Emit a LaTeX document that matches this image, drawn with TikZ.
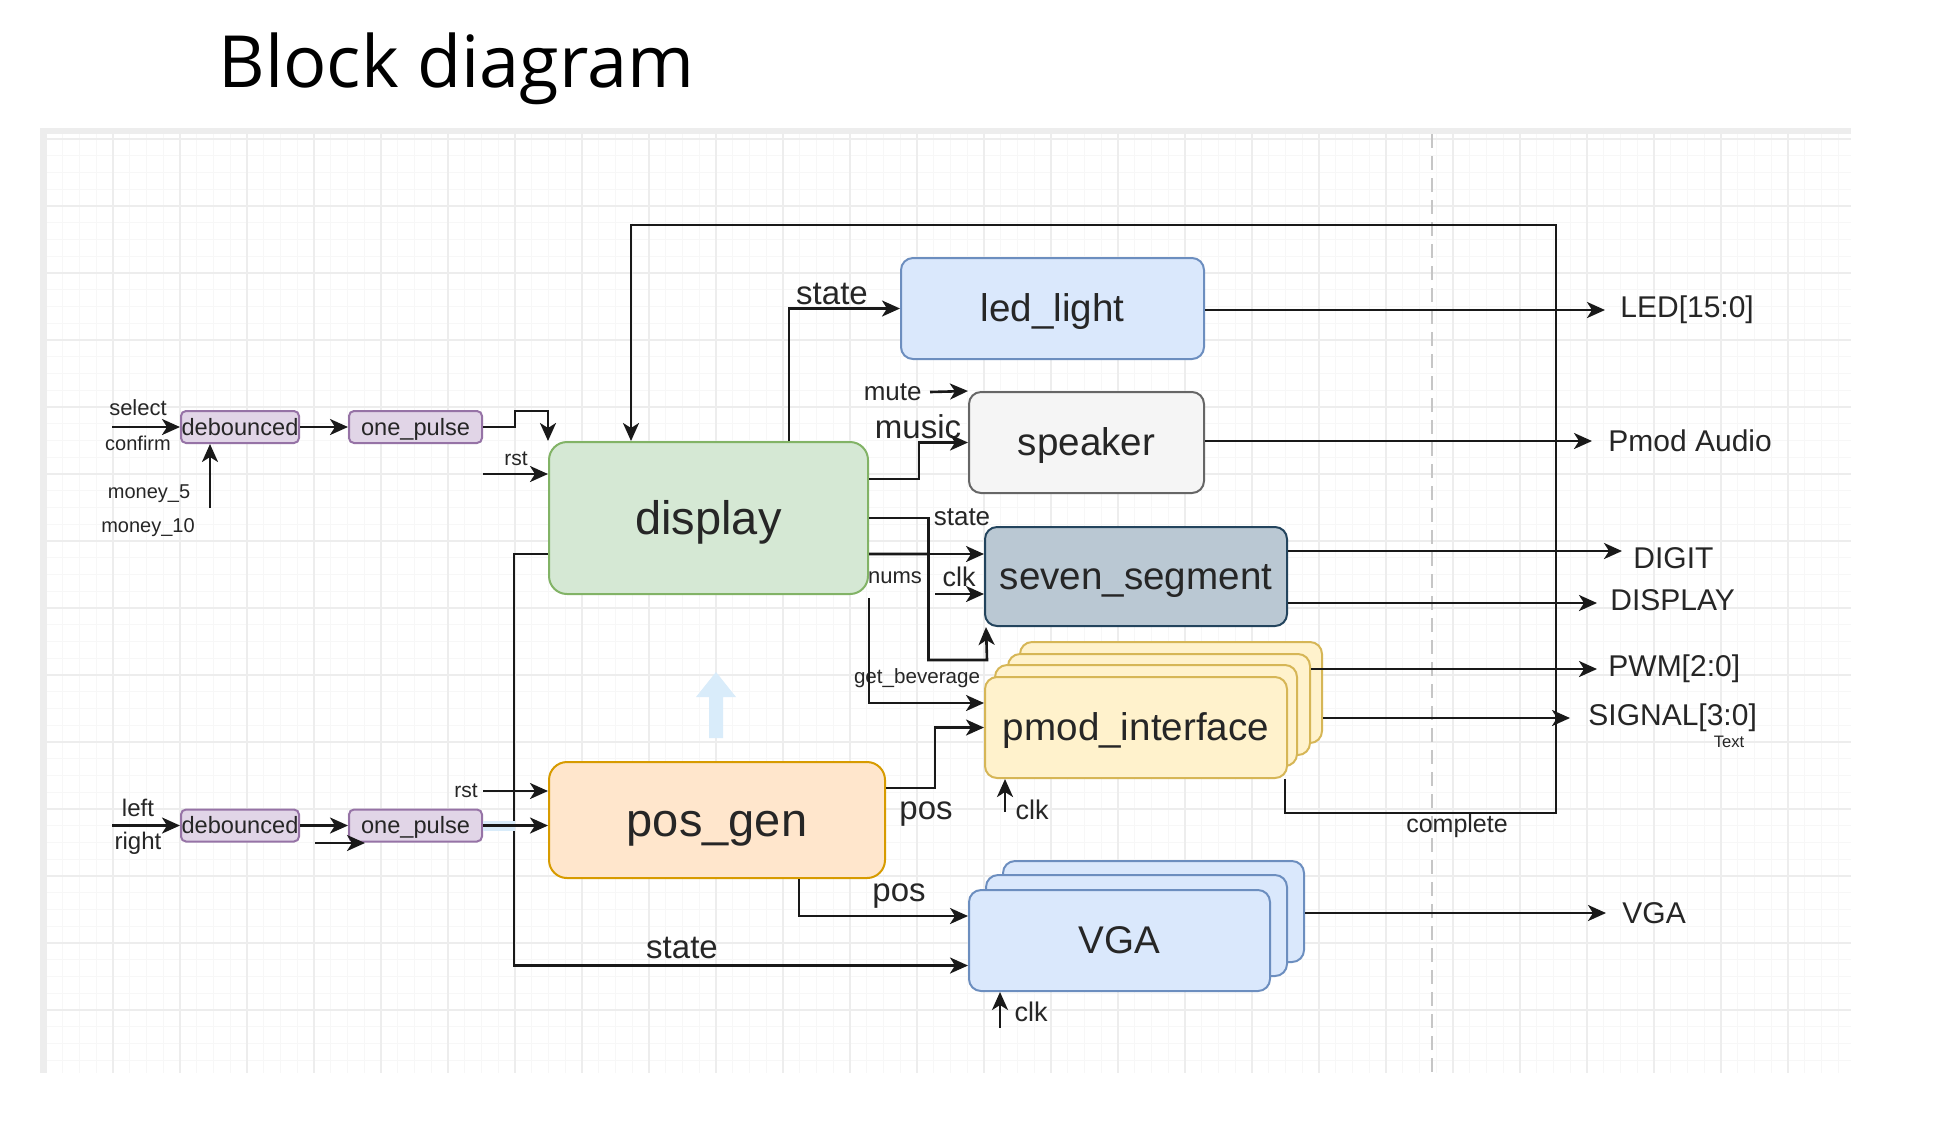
\documentclass[tikz,border=0pt]{standalone}
\usepackage{fontspec}
\setmainfont{Liberation Sans}
\newfontfamily\titlefont{Open Sans}
\usetikzlibrary{arrows.meta, positioning, calc, shadows}

\definecolor{ledfill}{HTML}{DAE8FC}
\definecolor{ledline}{HTML}{6C8EBF}
\definecolor{spkfill}{HTML}{F5F5F5}
\definecolor{spkline}{HTML}{666666}
\definecolor{dispfill}{HTML}{D5E8D4}
\definecolor{displine}{HTML}{82B366}
\definecolor{segfill}{HTML}{BAC8D3}
\definecolor{segline}{HTML}{23445D}
\definecolor{pmodfill}{HTML}{FFF2CC}
\definecolor{pmodline}{HTML}{D6B656}
\definecolor{posfill}{HTML}{FFE6CC}
\definecolor{posline}{HTML}{D79B00}
\definecolor{debfill}{HTML}{E1D5E7}
\definecolor{debline}{HTML}{9673A6}
\definecolor{txt}{HTML}{262626}
\definecolor{paleblue}{HTML}{D9ECFA}

\newcommand{\fsz}[1]{\fontsize{#1}{#1}\selectfont}

\begin{document}
\begin{tikzpicture}[
  x=0.5pt, y=-0.5pt,
  blk/.style={draw, rounded corners=6pt, line width=1pt, inner sep=0pt, align=center, text=txt, text height=17.4pt, text depth=4pt, font=\fsz{19.3}},
  bigblk/.style={blk, rounded corners=9pt, text height=21.2pt, text depth=4.9pt, font=\fsz{23.5}},
  tinyblk/.style={draw=debline, fill=debfill, rounded corners=2.5pt, line width=1pt, inner sep=0pt, minimum height=16pt, text=txt, text height=10.6pt, text depth=2.5pt, font=\fsz{11.8}},
  lbl/.style={inner sep=0pt, text=txt, font=\fsz{16.5}},
  smlbl/.style={inner sep=0pt, text=txt, font=\fsz{13.5}},
  tnylbl/.style={inner sep=0pt, text=txt, font=\fsz{10.5}},
  outlbl/.style={inner sep=0pt, anchor=west, text=txt, font=\fsz{15}},
  arr/.style={-{Stealth[length=9pt, width=8pt, inset=2.5pt]}, line width=1.3pt, black!90},
  minorline/.style={gray!6, line width=0.4pt},
  majorline/.style={gray!14, line width=0.6pt}
]
\useasboundingbox (0,0) rectangle (1952,1132);
\fill[white] (0,0) rectangle (1952,1132);
\fill[gray!14] (40,128) rectangle (1851,134);
\fill[gray!14] (40,128) rectangle (45,1073);
\foreach \k in {0,...,107} \draw[minorline] ({46+\k*16.75},134) -- ({46+\k*16.75},1073);
\foreach \k in {0,...,55} \draw[minorline] (45,{139+\k*16.75}) -- (1851,{139+\k*16.75});
\foreach \k in {0,...,26} \draw[majorline] ({46+\k*67},134) -- ({46+\k*67},1073);
\foreach \k in {0,...,13} \draw[majorline] (45,{139+\k*67}) -- (1851,{139+\k*67});
\draw[gray!45, line width=1pt, dash pattern=on 7pt off 4pt] (1432,134) -- (1432,1073);
\fill[paleblue] (716,672) -- (736,697) -- (723,697) -- (723,738) -- (709,738) -- (709,697) -- (696,697) -- cycle;

\node[anchor=base west, inner sep=0pt, font=\titlefont\fsz{36}] (title) at (218,87) {Block diagram};

\node[blk, draw=ledline, fill=ledfill, minimum width=151.5pt, minimum height=50.5pt] (led) at (1052.5,308.5) {led\_light};
\node[blk, draw=spkline, fill=spkfill, minimum width=117.5pt, minimum height=50.5pt] (spk) at (1086.5,442.5) {speaker};
\node[bigblk, draw=displine, fill=dispfill, minimum width=159.5pt, minimum height=76pt] (disp) at (708.5,518) {display};
\node[blk, draw=segline, fill=segfill, minimum width=151pt, minimum height=49.5pt] (seg) at (1136,576.5) {seven\_segment};
\node[blk, draw=pmodline, fill=pmodfill, minimum width=151pt, minimum height=50.5pt,
  copy shadow={shadow xshift=17.5pt, shadow yshift=17.5pt, draw=pmodline, fill=pmodfill, line width=1pt},
  copy shadow={shadow xshift=11.5pt, shadow yshift=11.5pt, draw=pmodline, fill=pmodfill, line width=1pt},
  copy shadow={shadow xshift=5pt, shadow yshift=6pt, draw=pmodline, fill=pmodfill, line width=1pt}] (pmod) at (1136,727.5) {pmod\_interface};
\node[bigblk, draw=posline, fill=posfill, minimum width=168pt, minimum height=58pt] (posgen) at (717,820) {pos\_gen};
\node[blk, draw=ledline, fill=ledfill, minimum width=150.5pt, minimum height=50.5pt,
  copy shadow={shadow xshift=17pt, shadow yshift=14.5pt, draw=ledline, fill=ledfill, line width=1pt},
  copy shadow={shadow xshift=8.5pt, shadow yshift=7.5pt, draw=ledline, fill=ledfill, line width=1pt}] (vga) at (1119.5,940.5) {VGA};

\node[tinyblk, minimum width=59pt] (debA) at (240,427) {debounced};
\node[tinyblk, minimum width=66.5pt] (pulseA) at (415.5,427) {one\_pulse};
\node[tinyblk, minimum width=59pt] (debB) at (240,825.5) {debounced};
\node[tinyblk, minimum width=66.5pt] (pulseB) at (415.5,825.5) {one\_pulse};

\coordinate (selin) at (112,427);
\coordinate (monin) at (210,508);
\coordinate (rstA) at (483,474);
\coordinate (mutein) at (930,392);
\coordinate (segclk) at (935,594);
\coordinate (pmodclk) at (1005,812);
\coordinate (vgaclk) at (1000,1028);
\coordinate (rstB) at (483,791);
\coordinate (lrin) at (112,825.5);
\coordinate (xin) at (315,843);
\coordinate (xout) at (365,843);

\node[tnylbl, font=\fsz{11}] (seltxt) at (138,408) {select};
\node[tnylbl, font=\fsz{10}] (conftxt) at (138,443) {confirm};
\node[tnylbl, font=\fsz{10}] (m5txt) at (149,494) {money\_5};
\node[tnylbl, font=\fsz{10}] (m10txt) at (148,528) {money\_10};
\node[tnylbl] (rstAtxt) at (516,459) {rst};
\node[tnylbl] (rstBtxt) at (466,791) {rst};
\node[tnylbl, font=\fsz{12}] (lefttxt) at (138,808) {left};
\node[tnylbl, font=\fsz{12}] (righttxt) at (138,843) {right};
\node[lbl] (ledst) at (832,294) {state};
\node[smlbl, font=\fsz{13}, left=4pt of mutein] (mutetxt) {mute};
\node[lbl] (musictxt) at (918,427) {music};
\node[smlbl, font=\fsz{13}] (segst) at (962,517) {state};
\node[tnylbl, font=\fsz{11}] (numstxt) at (895,578) {nums};
\node[smlbl] (segclktxt) at (959,577) {clk};
\node[tnylbl, font=\fsz{10.3}] (getbev) at (917,678) {get\_beverage};
\node[lbl] (postxt) at (926,814) {pos};
\node[smlbl] (pmodclktxt) at (1032,810) {clk};
\node[lbl] (vgapos) at (899,896) {pos};
\node[lbl] (vgast) at (682,948) {state};
\node[smlbl] (vgaclktxt) at (1031,1012) {clk};
\node[smlbl, font=\fsz{12.5}] (donetxt) at (1457,826) {complete};

\node[outlbl] (ledtxt) at (1620,310) {LED[15:0]};
\node[outlbl] (audtxt) at (1608,441) {Pmod Audio};
\node[outlbl] (digtxt) at (1633,558) {DIGIT};
\node[outlbl] (distxt) at (1610,600) {DISPLAY};
\node[outlbl] (pwmtxt) at (1608,669) {PWM[2:0]};
\node[outlbl] (sigtxt) at (1588,718) {SIGNAL[3:0]};
\node[outlbl] (vgatxt) at (1622,913) {VGA};
\node[inner sep=0pt, text=txt, font=\fsz{8.3}] (texttxt) at (1729,742) {Text};

\draw[arr] (selin) -- (debA);
\draw[arr] (monin) -- (monin |- debA.south);
\draw[arr] (debA) -- (pulseA);
\draw[arr] (pulseA.east) -| (515,411) -| (disp.north west);
\draw[arr] (rstA) -- (rstA -| disp.west);
\draw[arr] ($(pmod.south east)+(-3,0)$) -- ++(0,34) -| (1556,225) -| ($(disp.north)+(-77.5,0)$);
\draw[arr] ($(disp.north)+(80.5,0)$) |- (led);
\draw[arr] (mutein) -- (spk.north west);
\draw[arr] ($(disp.east)+(0,-39)$) -- ++(50,0) |- (spk);
\draw[arr] (disp.east) -- ++(59.5,0) |- ($(seg.west)+(0,-22.5)$);
\draw[arr] ($(disp.east)+(0,36)$) -- ++(59.5,0) |- (987,660) -- ($(seg.south west)+(2,0)$);
\draw[arr] (segclk) -- (segclk -| seg.west);
\draw[arr] ($(disp.south east)+(0,3)$) |- ($(pmod.west)+(0,-24.5)$);
\draw[arr] ($(posgen.east)+(0,-32)$) -- ++(49,0) |- (pmod);
\draw[arr] (pmodclk) -- (pmodclk |- pmod.south);
\draw[arr] ($(posgen.south)+(82,0)$) |- ($(vga.west)+(0,-24.5)$);
\draw[arr] ($(disp.west)+(0,36)$) -- ++(-34,0) |- ($(vga.west)+(0,25)$);
\draw[arr] (vgaclk) -- (vgaclk |- vga.south);
\draw[arr] (rstB) -- (rstB -| posgen.west);
\draw[line width=5pt, paleblue] (pulseB.east) -- (515,825.5);
\draw[arr] (pulseB) -- (pulseB -| posgen.west);
\draw[arr] (lrin) -- (debB);
\draw[arr] (debB) -- (pulseB);
\draw[arr] (xin) -- (xout);

\draw[arr] (led.east |- ledtxt) -- ([xshift=-7.5pt]ledtxt.west);
\draw[arr] (spk.east |- audtxt) -- ([xshift=-8pt]audtxt.west);
\draw[arr] ($(seg.east |- digtxt)+(0,-7)$) -- ($(digtxt.west)+(-11,-7)$);
\draw[arr] ($(seg.east |- distxt)+(0,3)$) -- ($(distxt.west)+(-13,3)$);
\draw[arr] ($(pmod.east |- pwmtxt)+(23,0)$) -- ([xshift=-5.5pt]pwmtxt.west);
\draw[arr] ($(pmod.east |- sigtxt)+(35,0)$) -- ([xshift=-9pt]sigtxt.west);
\draw[arr] ($(vga.east |- vgatxt)+(34,0)$) -- ([xshift=-8pt]vgatxt.west);
\end{tikzpicture}
\end{document}
